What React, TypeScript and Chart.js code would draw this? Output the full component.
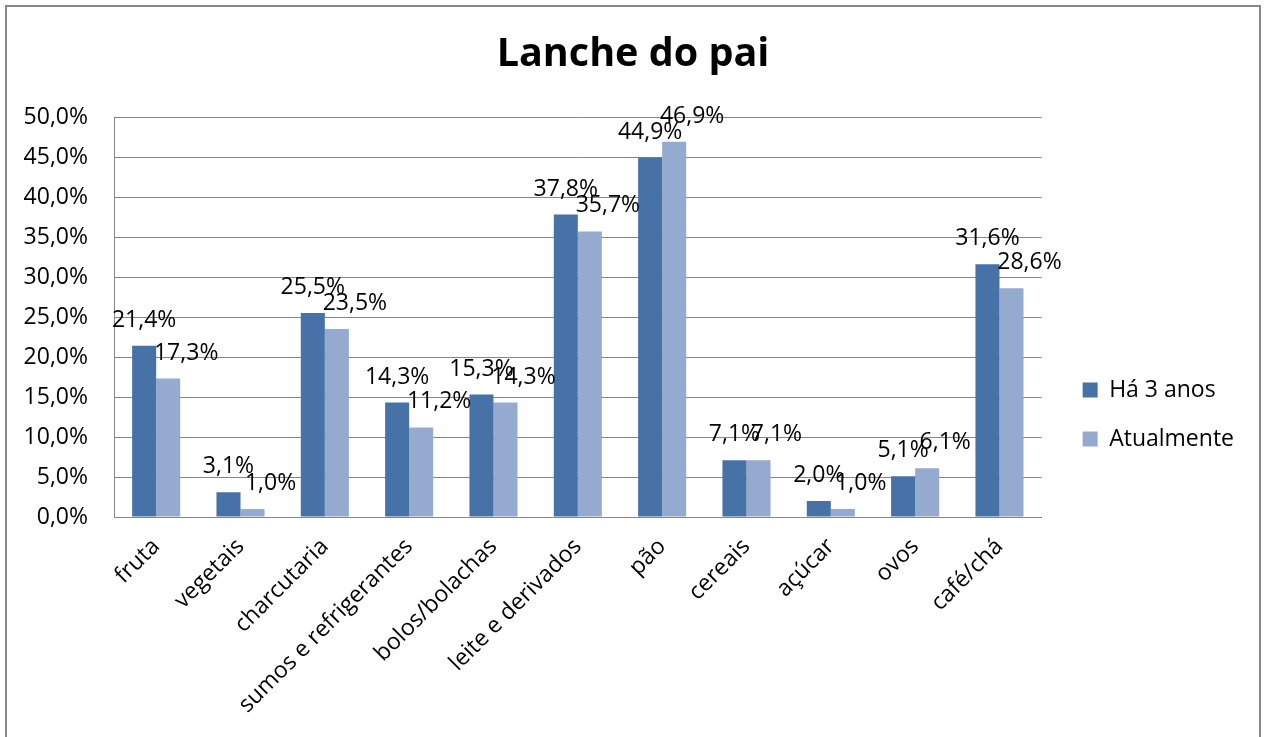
import React, { useEffect, useRef } from 'react';
import { Chart, registerables } from 'chart.js';

Chart.register(...registerables);

const chartTitle = 'Lanche do pai';
const categories = [
  'fruta',
  'vegetais',
  'charcutaria',
  'sumos e refrigerantes',
  'bolos/bolachas',
  'leite e derivados',
  'pão',
  'cereais',
  'açúcar',
  'ovos',
  'café/chá',
];
const seriesNames = ['Há 3 anos', 'Atualmente'];
const ha3Anos = [21.4, 3.1, 25.5, 14.3, 15.3, 37.8, 44.9, 7.1, 2.0, 5.1, 31.6];
const atualmente = [17.3, 1.0, 23.5, 11.2, 14.3, 35.7, 46.9, 7.1, 1.0, 6.1, 28.6];
const yMin = 0;
const yMax = 50;
const yStep = 5;

const FONT = '"Open Sans", "Noto Sans", sans-serif';
const FS = 23;
const PAD_RIGHT = 37;
const COLORS = ['#4672A7', '#95AACF'];
const GRID = '#868686';
const LABEL_DX = [0, 18];
const LABEL_GAP = 19;
const LEGEND_SHIFT_X = 15;
const LEGEND_SHIFT_Y = 46;

const fmt = (v: number) => v.toFixed(1).replace('.', ',') + '%';

const frame = {
  id: 'frame',
  beforeDraw(chart: any) {
    const { ctx, width, height } = chart;
    ctx.save();
    ctx.fillStyle = '#ffffff';
    ctx.fillRect(0, 0, width, height);
    ctx.strokeStyle = '#898989';
    ctx.lineWidth = 2;
    ctx.strokeRect(6, 6, 1254, height + 20);
    ctx.restore();
  },
};

const boxShift = {
  id: 'boxShift',
  afterLayout(chart: any) {
    const lg = chart.legend;
    if (lg) {
      lg.left += LEGEND_SHIFT_X;
      lg.right += LEGEND_SHIFT_X;
      lg.top += LEGEND_SHIFT_Y;
      lg.bottom += LEGEND_SHIFT_Y;
    }
    const tb = chart.titleBlock;
    if (tb) {
      tb.left += PAD_RIGHT / 2;
      tb.right += PAD_RIGHT / 2;
    }
  },
};

const dataLabels = {
  id: 'dataLabels',
  afterDatasetsDraw(chart: any) {
    const { ctx } = chart;
    ctx.save();
    ctx.font = `${FS}px ${FONT}`;
    ctx.fillStyle = '#000000';
    ctx.textAlign = 'center';
    ctx.textBaseline = 'alphabetic';
    chart.data.datasets.forEach((ds: any, di: number) => {
      const meta = chart.getDatasetMeta(di);
      meta.data.forEach((bar: any, i: number) => {
        ctx.fillText(fmt(ds.data[i]), bar.x + LABEL_DX[di], bar.y - LABEL_GAP);
      });
    });
    ctx.restore();
  },
};

export default function App() {
  const ref = useRef<HTMLCanvasElement | null>(null);

  useEffect(() => {
    document.body.style.margin = '0';
    const canvas = ref.current;
    if (!canvas) return;
    const chart = new Chart(canvas, {
      type: 'bar',
      data: {
        labels: categories,
        datasets: [
          { label: seriesNames[0], data: ha3Anos, backgroundColor: COLORS[0], borderWidth: 0 },
          { label: seriesNames[1], data: atualmente, backgroundColor: COLORS[1], borderWidth: 0 },
        ],
      },
      options: {
        responsive: false,
        animation: false,
        devicePixelRatio: 1,
        layout: { padding: { top: 0, left: 0, right: PAD_RIGHT, bottom: 0 } },
        datasets: { bar: { categoryPercentage: 0.57, barPercentage: 1 } },
        scales: {
          x: {
            offset: true,
            grid: { display: false, drawTicks: false },
            border: { display: true, color: GRID, width: 1 },
            ticks: {
              autoSkip: false,
              minRotation: 45,
              maxRotation: 45,
              padding: 16,
              color: '#000000',
              font: { family: FONT, size: FS },
            },
            afterFit: (s: any) => {
              s.height = 220;
            },
          },
          y: {
            min: yMin,
            max: yMax,
            grid: { color: GRID, lineWidth: 1, drawTicks: false },
            border: { display: true, color: GRID, width: 1 },
            ticks: {
              stepSize: yStep,
              padding: 26,
              color: '#000000',
              font: { family: FONT, size: FS },
              callback: (v: any) => fmt(Number(v)),
            },
            afterFit: (s: any) => {
              s.width = 114;
            },
          },
        },
        plugins: {
          title: {
            display: true,
            text: chartTitle,
            color: '#000000',
            font: { family: FONT, size: 39.5, weight: 'bold' },
            padding: { top: 31, bottom: 38.6 },
          },
          legend: {
            position: 'right',
            align: 'center',
            labels: {
              boxWidth: 15,
              boxHeight: 15,
              padding: 26,
              color: '#000000',
              font: { family: FONT, size: FS },
            },
          },
          tooltip: { enabled: false },
        },
      },
      plugins: [frame, boxShift, dataLabels],
    } as any);
    return () => chart.destroy();
  }, []);

  return (
    <div style={{ position: 'fixed', left: 0, top: 0, width: 1266, height: 737 }}>
      <canvas ref={ref} width={1266} height={737} style={{ display: 'block' }} />
    </div>
  );
}
